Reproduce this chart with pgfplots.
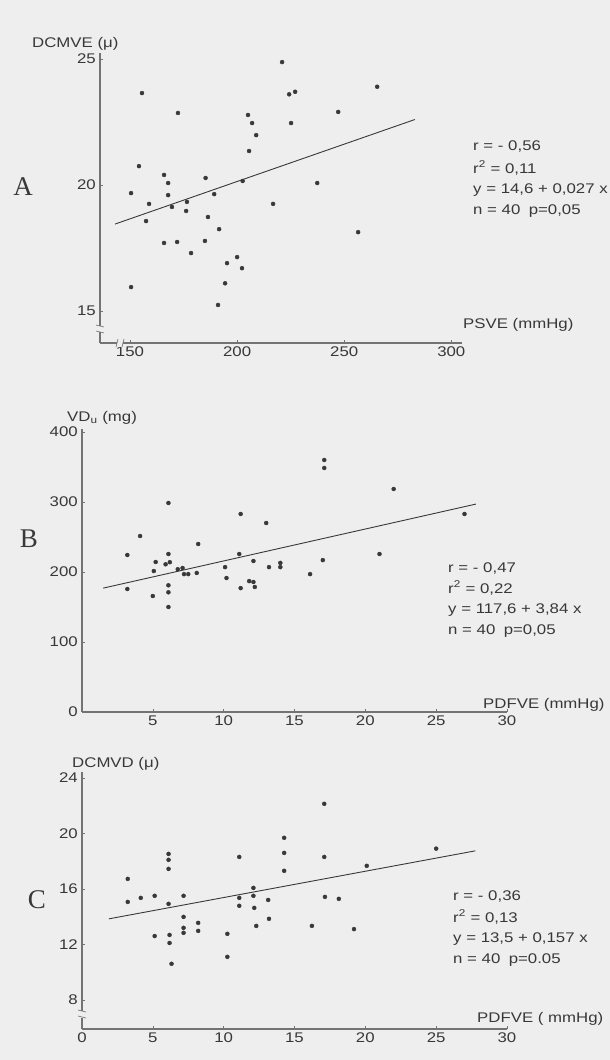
\documentclass[border=0pt]{standalone}
\usepackage{fontspec}
\setmainfont{Liberation Sans}
\newfontfamily\panelfont{Liberation Serif}
\usepackage{pgfplots}
\pgfplotsset{compat=1.18}

\definecolor{paper}{gray}{0.935}
\definecolor{ink}{gray}{0.22}
\definecolor{axisgray}{gray}{0.45}

\pgfplotsset{
  scanaxis/.style={
    scale only axis, anchor=south west, clip=false,
    axis x line=bottom, axis y line=left,
    axis line style={-, line width=1.1pt, axisgray},
    tick style={axisgray, line width=0.6pt},
    major tick length=3pt, tick align=inside,
    tick label style={font=\fontsize{14}{14}\selectfont, text=ink, xscale=1.2},
    /pgf/number format/assume math mode=true,
    /pgf/number format/1000 sep={},
  },
  dots/.style={only marks, mark=*, mark size=2pt, mark options={fill=ink, draw=ink}},
  fitline/.style={no marks, line width=0.9pt, ink},
}

\begin{document}
\begin{tikzpicture}
\path[use as bounding box, fill=paper] (0pt,0pt) rectangle (610pt,-1060pt);

% ---------- A ----------
\begin{axis}[scanaxis, at={(100pt,-343pt)}, width=362pt, height=290pt,
  xmin=136, xmax=305, ymin=13.73, ymax=25.24,
  xtick={150,200,250,300}, ytick={15,20,25}]
\addplot[dots] coordinates {
(221.0,24.88) (155.6,23.65) (172.4,22.86) (205.1,22.78) (207.0,22.46)
(208.9,21.98) (205.6,21.35) (224.3,23.60) (227.1,23.70) (225.2,22.46)
(154.2,20.75) (165.9,20.40) (167.8,20.08) (185.3,20.28) (202.6,20.16)
(150.5,19.68) (167.8,19.60) (189.3,19.64) (158.9,19.25) (169.6,19.13)
(176.6,19.33) (176.2,18.97) (186.4,18.73) (157.5,18.57) (191.6,18.25)
(216.8,19.25) (165.9,17.70) (172.0,17.74) (185.0,17.78) (178.5,17.30)
(200.0,17.14) (195.3,16.90) (202.3,16.70) (194.4,16.10) (150.5,15.95)
(191.1,15.24) (237.4,20.08) (265.4,23.90) (247.2,22.90) (256.5,18.13)
};
\addplot[fitline] coordinates {(143,18.45) (283,22.60)};
\end{axis}

% ---------- B ----------
\begin{axis}[scanaxis, at={(82pt,-712pt)}, width=425pt, height=283.5pt,
  xmin=0, xmax=30, ymin=0, ymax=405,
  xtick={5,10,...,30}, ytick={0,100,...,400}]
\addplot[dots] coordinates {
(17.1,360.0) (17.1,348.6) (22.0,318.6) (27.0,282.9) (6.1,298.6)
(11.2,282.9) (13.0,270.0) (4.1,251.4) (8.2,240.0) (3.2,224.3)
(6.1,225.7) (11.1,225.7) (5.2,214.3) (6.2,214.0) (5.9,211.0)
(12.1,215.7) (14.0,213.0) (14.0,207.0) (17.0,217.0) (21.0,225.7)
(5.07,201.4) (6.76,204.0) (7.1,205.7) (7.2,197.0) (7.5,197.0)
(8.1,198.6) (10.1,207.0) (10.2,191.4) (13.2,207.0) (16.1,197.0)
(3.2,175.7) (6.1,181.0) (6.1,171.0) (5.0,165.7) (6.1,150.0)
(11.2,177.0) (11.8,187.0) (12.1,185.7) (12.2,178.6)
};
\addplot[fitline] coordinates {(1.5,177) (27.8,297)};
\end{axis}

% ---------- C ----------
\begin{axis}[scanaxis, at={(82pt,-1029pt)}, width=425pt, height=256.7pt,
  xmin=0, xmax=30, ymin=5.9, ymax=24.4,
  xtick={0,5,...,30}, ytick={8,12,...,24}]
\addplot[dots] coordinates {
(3.23,16.72) (3.23,15.06) (4.15,15.35) (5.13,15.50) (5.13,12.60)
(6.11,18.52) (6.11,18.09) (6.11,17.44) (6.11,14.92) (6.18,12.68)
(6.18,12.10) (6.32,10.60) (7.17,15.50) (7.17,13.98) (7.17,13.19)
(7.17,12.83) (8.20,13.55) (8.20,12.97) (10.26,12.76) (10.26,11.10)
(11.10,18.30) (11.10,15.35) (11.10,14.78) (12.10,16.07) (12.10,15.50)
(12.16,14.63) (12.30,13.33) (13.14,15.20) (13.20,13.84) (14.27,19.68)
(14.27,18.59) (14.27,17.30) (16.23,13.33) (17.10,22.13) (17.10,18.30)
(17.15,15.42) (18.13,15.28) (19.20,13.10) (20.10,17.66) (25.00,18.90)
};
\addplot[fitline] coordinates {(1.9,13.84) (27.76,18.74)};
\end{axis}

% axis breaks
\fill[paper] (97pt,-326pt) rectangle (104pt,-332pt);
\draw[axisgray, line width=0.7pt] (96pt,-325pt) -- (104pt,-327pt) (96pt,-331pt) -- (104pt,-333pt);
\fill[paper] (117pt,-339pt) rectangle (123pt,-347pt);
\draw[axisgray, line width=0.7pt] (116pt,-347pt) -- (118pt,-339pt) (122pt,-347pt) -- (124pt,-339pt);
\fill[paper] (79pt,-1011pt) rectangle (86pt,-1018pt);
\draw[axisgray, line width=0.7pt] (78pt,-1010pt) -- (86pt,-1012pt) (78pt,-1016pt) -- (86pt,-1018pt);

% axis titles and statistics
\begin{scope}[every node/.style={text=ink, inner sep=0pt, anchor=base west, xscale=1.2, font=\fontsize{14}{14}\selectfont}]
\node at (32pt,-47pt) {DCMVE (μ)};
\node at (463pt,-328pt) {PSVE (mmHg)};
\node at (67pt,-421pt) {VD\textsubscript{u} (mg)};
\node at (483pt,-708pt) {PDFVE (mmHg)};
\node at (72pt,-767pt) {DCMVD (μ)};
\node at (477pt,-1022pt) {PDFVE ( mmHg)};

\node at (473pt,-150pt) {r = - 0,56};
\node at (473pt,-173pt) {r\textsuperscript{2} = 0,11};
\node at (473pt,-193pt) {y = 14,6 + 0,027 x};
\node at (473pt,-214pt) {n = 40\enspace p=0,05};
\node at (448pt,-572pt) {r = - 0,47};
\node at (448pt,-593pt) {r\textsuperscript{2} = 0,22};
\node at (448pt,-613pt) {y = 117,6 + 3,84 x};
\node at (448pt,-634pt) {n = 40\enspace p=0,05};
\node at (453pt,-900pt) {r = - 0,36};
\node at (453pt,-922pt) {r\textsuperscript{2} = 0,13};
\node at (453pt,-942pt) {y = 13,5 + 0,157 x};
\node at (453pt,-963pt) {n = 40\enspace p=0.05};
\end{scope}

% panel letters
\begin{scope}[every node/.style={text=ink, inner sep=0pt, font=\panelfont\fontsize{27}{27}\selectfont}]
\node at (23pt,-187pt) {A};
\node at (29pt,-539pt) {B};
\node at (37pt,-900pt) {C};
\end{scope}
\end{tikzpicture}
\end{document}
